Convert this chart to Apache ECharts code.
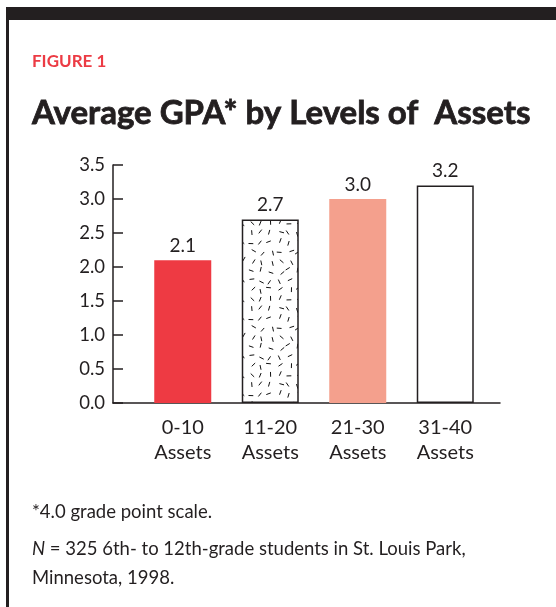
<!DOCTYPE html>
<html>
<head>
<meta charset="utf-8">
<script src="https://cdn.jsdelivr.net/npm/echarts@6/dist/echarts.min.js"></script>
<style>
	html, body { margin: 0; padding: 0; background: #fff; }
	#chart { width: 556px; height: 607px; }
</style>
</head>
<body>
<div id="chart"></div>
<script>
	// 数据
	const categories = ['0-10\nAssets', '11-20\nAssets', '21-30\nAssets', '31-40\nAssets']
	const gpaValues = [2.1, 2.7, 3.0, 3.2]
	const yTicks = { min: 0, max: 3.5, interval: 0.5 }

	const ink = '#231f20'
	const font = 'Lato, "Open Sans", sans-serif'

	// 点状纹理 (11-20 柱子)，抖动网格上的短线
	function makeSpeckle() {
		const cols = 6, rows = 8, cell = 9.5
		const c = document.createElement('canvas')
		c.width = cols * cell
		c.height = rows * cell
		const ctx = c.getContext('2d')
		ctx.fillStyle = '#fff'
		ctx.fillRect(0, 0, c.width, c.height)
		ctx.strokeStyle = '#111'
		ctx.lineWidth = 1
		let seed = 11
		const rnd = () => {
			seed = (seed * 16807) % 2147483647
			return seed / 2147483647
		}
		for (let r = 0; r < rows; r++) {
			for (let k = 0; k < cols; k++) {
				const x = k * cell + 2.5 + rnd() * (cell - 5)
				const y = r * cell + 2.5 + rnd() * (cell - 5)
				const a = rnd() * Math.PI
				const l = 2.4
				ctx.beginPath()
				ctx.moveTo(x - Math.cos(a) * l, y - Math.sin(a) * l)
				ctx.lineTo(x + Math.cos(a) * l, y + Math.sin(a) * l)
				ctx.stroke()
			}
		}
		return c
	}

	const barStyles = [
		{ color: '#ee3a43' },
		{ color: { image: makeSpeckle(), repeat: 'repeat' }, borderColor: ink, borderWidth: 1.5 },
		{ color: '#f4a08d' },
		{ color: '#fff', borderColor: ink, borderWidth: 1.5 }
	]

	const chart = echarts.init(document.getElementById('chart'), null, { renderer: 'canvas' })

	const option = {
		backgroundColor: '#fff',
		animation: false,
		textStyle: { fontFamily: font, color: ink },
		graphic: [
			// 顶部黑条 + 左侧边线
			{ type: 'rect', shape: { x: 6, y: 7, width: 560, height: 13 }, style: { fill: ink } },
			{ type: 'rect', shape: { x: 6, y: 7, width: 3, height: 620 }, style: { fill: ink } }
		],
		title: [
			{
				text: 'FIGURE 1', left: 32, top: 53, padding: 0,
				textStyle: { fontFamily: font, fontSize: 17, fontWeight: 'bold', color: '#ec3b44' }
			},
			{
				text: 'Average GPA* by Levels of  Assets', left: 32, top: 97, padding: 0,
				textStyle: {
					fontFamily: font, fontSize: 33, fontWeight: 'bold', color: ink,
					textBorderColor: ink, textBorderWidth: 0.8
				}
			},
			{
				text: '*4.0 grade point scale.', left: 32, top: 503, padding: 0,
				textStyle: { fontFamily: font, fontSize: 18.5, fontWeight: 'normal', color: ink }
			},
			{
				text: '{i|N} = 325 6th- to 12th-grade students in St. Louis Park,\nMinnesota, 1998.',
				left: 32, top: 535, padding: 0,
				textStyle: {
					fontFamily: font, fontSize: 18.5, fontWeight: 'normal', color: ink, lineHeight: 29,
					rich: { i: { fontFamily: font, fontSize: 18.5, fontStyle: 'italic', color: ink, lineHeight: 29 } }
				}
			}
		],
		grid: [
			// 坐标轴框
			{ left: 113, right: 56, top: 165, bottom: 204 },
			// 柱子区域
			{ left: 139, right: 67, top: 165, bottom: 204 }
		],
		xAxis: [
			{
				gridIndex: 0, type: 'category', data: [''],
				axisLine: { lineStyle: { color: ink, width: 1.5 } },
				axisTick: { show: false }, axisLabel: { show: false }, splitLine: { show: false }
			},
			{
				gridIndex: 1, type: 'category', data: categories,
				axisLine: { show: false }, axisTick: { show: false },
				axisLabel: { margin: 12, fontSize: 20, lineHeight: 25, color: ink, fontFamily: font }
			}
		],
		yAxis: [
			{
				gridIndex: 0, type: 'value', min: yTicks.min, max: yTicks.max, interval: yTicks.interval,
				axisLine: { show: true, lineStyle: { color: ink, width: 1.5 } },
				axisTick: { show: true, inside: true, length: 10, lineStyle: { color: ink, width: 1.5 } },
				axisLabel: { margin: 8, fontSize: 18.5, color: ink, fontFamily: font, formatter: v => v.toFixed(1) },
				splitLine: { show: false }
			},
			{
				gridIndex: 1, type: 'value', min: yTicks.min, max: yTicks.max, interval: yTicks.interval,
				show: false
			}
		],
		series: [{
			type: 'bar',
			xAxisIndex: 1,
			yAxisIndex: 1,
			barWidth: 57,
			data: gpaValues.map((v, i) => ({ value: v, itemStyle: barStyles[i] })),
			label: {
				show: true, position: 'top', distance: 5,
				fontSize: 19, color: ink, fontFamily: font,
				formatter: p => p.value.toFixed(1)
			}
		}]
	}

	chart.setOption(option)
</script>
</body>
</html>
